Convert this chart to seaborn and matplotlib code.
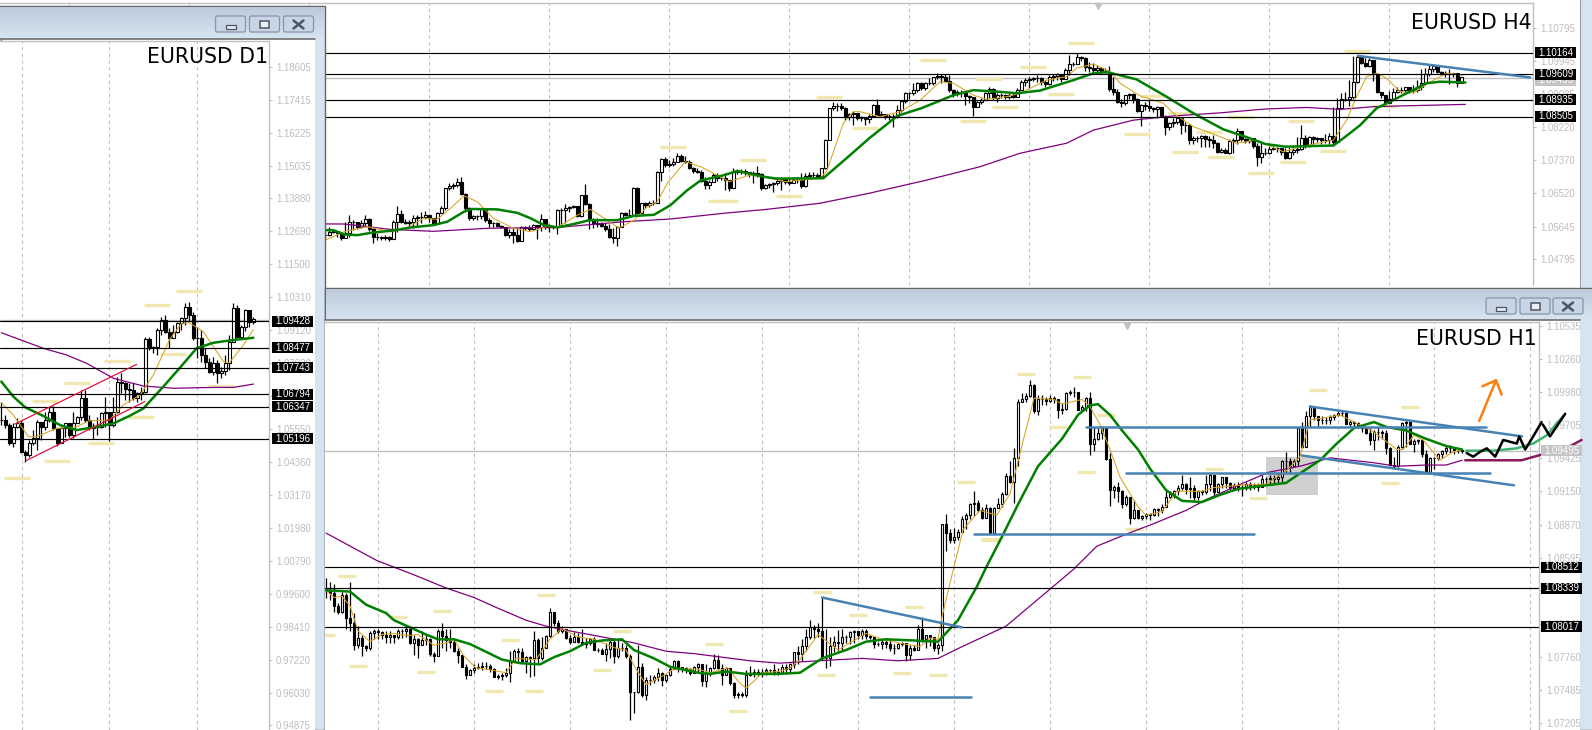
import numpy as np
import matplotlib
matplotlib.use("Agg")
import matplotlib.pyplot as plt
from matplotlib.patches import Rectangle, FancyBboxPatch
from matplotlib.colors import LinearSegmentedColormap
import seaborn as sns

# all prices are kept in pips above 1.0000, candles open at the previous close
d1_close = [586,568,502,562,574,472,460,502,520,580,562,586,617,556,502,556,574,532,574,596,665,586,556,562,562,611,617,568,617,725,719,697,695,665,683,689,877,845,851,911,947,905,881,905,935,953,993,965,881,881,821,797,761,791,755,764,791,869,989,887,923,983,941,949]
d1_high = [653,604,574,574,592,586,478,514,550,586,568,617,632,637,556,562,574,568,617,601,695,695,604,574,598,617,671,617,671,743,755,725,719,719,689,707,885,885,853,917,959,965,917,929,941,959,1010,1013,977,923,911,845,809,815,803,776,821,893,1007,1001,929,985,983,957]
d1_low = [568,556,496,490,556,466,436,454,496,478,514,550,580,550,493,502,526,526,520,574,586,580,550,517,532,556,562,512,560,611,683,659,653,659,653,659,683,839,827,821,893,899,845,881,899,911,929,941,875,809,797,773,755,749,719,737,749,767,875,881,885,909,923,933]
d1_green_bar = [0,3,6,10.5,14.7,18.8,23.8,28,32,35.5,40.5,44.7,48.8,53,58,63]
d1_green = [725,671,632,601,568,550,562,574,601,628,707,776,845,865,875,883]
d1_orange_bar = [0,3,6.8,8.8,13.8,18.8,22,27,30.5,34.7,38,42,45,47,50.5,53,55.5,57,60.5,63]
d1_orange = [649,604,526,526,556,562,584,586,641,677,749,875,935,937,905,851,797,793,857,913]
d1_purple_bar = [0,3.8,10.5,16.3,21.3,28,35.5,43,53,58,63]
d1_purple = [901,881,845,821,791,737,709,701,704,704,716]
d1_levels = [1.09428,1.08477,1.07743,1.06794,1.06347,1.05196]
d1_ticks = [1.18605,1.17415,1.16225,1.15035,1.13880,1.12690,1.11500,1.10310,1.09120,1.07930,1.06740,1.05550,1.04360,1.03170,1.01980,1.00790,0.99600,0.98410,0.97220,0.96030,0.94875]
d1_dash_bar = [47,39,29,19,11,43,55,35,25,14,4]
d1_dash = [1050,1000,798,719,654,823,708,596,502,437,376]
d1_red_bar = [[6.2,35.9],[3.4,33.8]]
d1_red = [[440,653],[572,787]]
d1_grid = [5.1,27,49]

h4_close = [542,551,554,547,534,547,577,577,562,574,583,557,536,538,534,538,533,577,597,577,574,577,586,588,590,594,586,573,600,612,664,670,672,681,649,612,586,592,592,609,581,573,573,566,562,542,551,542,528,562,560,557,568,562,583,564,564,562,607,607,612,616,618,592,646,623,581,573,571,566,557,538,534,562,600,594,594,664,600,625,620,626,625,707,739,724,727,733,748,736,733,716,710,707,684,672,681,698,690,
690,685,664,707,707,709,707,700,703,700,665,672,674,678,684,687,681,678,685,685,670,696,698,698,696,716,789,872,878,878,872,848,857,859,846,846,843,852,880,854,857,852,853,852,867,891,911,911,919,937,924,937,937,952,956,954,944,919,909,915,912,904,900,876,889,893,911,921,898,906,906,902,906,902,919,941,945,947,950,950,941,935,952,956,961,947,971,987,987,1004,1002,978,976,971,976,
967,967,921,915,889,886,906,909,895,866,880,878,872,869,874,852,824,834,837,846,828,828,789,794,794,800,791,789,782,759,763,756,788,789,814,791,788,794,774,746,755,755,765,768,768,759,742,759,763,765,794,776,796,791,794,789,789,800,785,872,895,895,902,941,1006,990,982,997,961,915,906,886,895,915,919,919,926,919,919,926,938,961,973,982,967,964,963,963,963,938,952,951]
h4_high = [560,562,557,554,551,577,594,581,577,581,594,586,560,547,540,542,540,581,618,607,583,581,594,594,603,606,597,586,603,618,664,677,677,690,692,652,616,594,594,612,612,586,577,577,568,562,557,560,560,566,566,568,571,568,597,583,571,566,609,612,623,618,620,612,646,675,625,586,586,577,573,571,560,566,603,603,609,666,668,626,629,632,634,710,742,744,737,742,755,753,748,737,718,716,711,694,685,703,703,
698,703,677,716,713,713,713,707,710,722,704,675,677,681,692,692,690,690,692,692,704,704,707,707,704,716,791,873,889,885,885,876,860,866,854,852,846,857,883,895,866,857,857,857,880,893,915,915,937,941,941,941,950,954,964,961,961,958,921,919,919,912,906,898,892,898,915,926,924,911,911,909,911,915,924,945,950,952,952,958,952,945,958,961,964,958,976,1010,993,1015,1008,1004,993,989,984,
980,976,982,952,921,895,906,912,911,898,883,889,895,876,878,876,854,837,846,848,846,837,831,800,800,802,802,800,802,785,768,768,791,794,820,814,794,796,794,781,781,768,774,774,770,765,768,770,772,798,828,802,800,800,796,794,805,808,876,898,912,915,945,1008,1010,999,1002,1002,963,926,911,900,918,924,926,928,924,924,932,945,973,976,984,980,971,970,970,973,964,954,954]
h4_low = [529,540,547,538,529,536,538,555,557,560,564,554,522,529,529,529,528,531,551,574,571,566,560,566,573,583,577,568,574,599,607,659,661,668,646,607,581,581,581,583,577,562,564,562,560,540,534,521,525,528,555,554,555,531,554,557,551,557,545,568,573,603,612,588,590,620,557,560,564,562,554,534,521,514,562,592,588,594,597,612,612,616,620,626,684,720,720,722,733,733,729,713,704,703,681,661,661,684,684,
685,659,657,668,701,701,698,694,678,692,659,661,664,655,672,659,675,672,681,678,664,666,690,692,692,694,713,789,867,866,867,841,841,828,841,840,828,834,848,852,848,843,841,822,846,863,886,895,906,915,919,919,932,932,947,937,941,915,900,904,900,880,885,852,876,883,895,898,893,889,898,895,895,898,900,919,930,924,944,941,932,928,932,944,945,941,947,958,982,990,996,970,967,964,963,
961,963,918,906,885,876,880,895,885,863,826,867,866,863,846,848,802,815,822,831,805,811,779,779,785,772,770,770,768,756,755,755,753,755,779,788,781,782,768,722,730,750,753,763,759,750,739,739,750,756,763,768,772,779,785,779,781,779,776,785,869,892,878,895,937,987,978,978,944,912,898,885,889,893,911,912,915,912,911,915,919,937,956,967,964,958,952,935,952,928,938,944]
h4_green_bar = [-81,2,4.7,8,12,17,21.3,27,30.5,34.7,36.7,43,48,51.3,54.7,58,63,66,73,77.2,82.2,86.3,90.5,93.8,99.7,103,109.5,112.8,124.5,130.3,136,143,149,154,157,162,168,173,178.7,187,192,195.3,197.8,202.8,210.3,217,224.5,230,235,240,252,254.5,258.7,262.8,266.2,270.3,275.3,278.7,285]
h4_green = [562,555,544,542,549,554,562,568,577,603,610,609,600,586,568,562,573,581,581,592,595,620,659,684,698,709,694,689,690,742,794,852,872,893,906,919,915,911,918,945,963,966,960,947,902,859,817,798,779,772,775,794,828,872,889,911,937,941,939]
h4_orange_bar = [0,4.7,10.5,16.3,20.5,24.7,28,31.3,34.7,38,42,47,51.3,56.3,58,63,66.3,70.5,73.4,77.2,80.5,83,85.5,90,93.8,97,101,106,109.5,115,123.7,125.3,129.5,132,133.7,138.7,143.7,148.7,153.7,157,162,165.3,170.3,173.7,180.3,185.3,187.8,192,196.2,198.7,203.7,209.5,212,217,222,227.8,232.8,239.5,243.7,252,255.3,257.8,260.3,262.8,265.3,268.7,272,277,280.3,284.5]
h4_orange = [529,551,564,551,562,586,583,612,644,629,586,560,551,568,562,594,609,581,560,581,616,629,677,733,720,703,681,698,694,681,690,707,833,863,863,850,863,893,941,937,906,895,902,911,945,954,976,987,967,937,904,885,859,824,805,781,789,759,772,789,841,902,954,963,950,915,912,945,963,958]
h4_purple_bar = [-81,4.7,16.3,27,41,58,74.7,86.3,99.7,110.3,123.7,136,150.3,163.7,173.7,185.3,192,202,212,223.7,235,245.3,253.7,262,268.7,285]
h4_purple = [574,571,557,552,560,562,577,584,599,609,625,651,685,720,755,781,815,841,852,860,870,874,869,876,878,882]
h4_levels = [1.10164,1.09609,1.08935,1.08505]
h4_ticks = [1.10795,1.09945,1.09085,1.08220,1.07370,1.06520,1.05645,1.04795]
h4_dash_bar = [87,99,107,100,116,126,135,152,162,166,170,177,184,189,207,203,214,221,215,229,224,244,234,242,252,258,265]
h4_dash = [770,630,737,630,644,900,820,997,840,947,874,978,908,1041,903,804,859,809,757,849,744,840,703,731,762,1020,879]
h4_blue_bar = [258.2,301.2]
h4_blue = [1008,952]

h1_close = [832,830,819,814,828,809,805,786,792,785,784,796,798,797,795,793,795,793,798,798,800,788,791,786,790,791,779,777,798,794,790,789,781,778,768,761,765,767,768,769,769,766,759,760,761,763,773,781,780,773,776,775,790,775,784,794,814,805,798,800,792,789,793,789,787,788,791,782,782,779,783,789,777,784,784,777,747,747,768,744,757,757,759,763,757,761,766,773,768,767,766,763,768,770,756,763,767,774,767,761,767,754,744,745,744,761,763,764,763,764,765,765,764,763,
768,766,770,780,779,785,793,801,800,798,775,775,785,789,788,793,793,797,798,795,798,794,793,787,787,789,787,784,784,787,788,778,784,782,800,791,795,793,784,786,
888,880,874,877,881,892,895,904,905,899,893,901,880,901,904,913,928,923,943,990,992,995,1004,982,992,992,991,993,992,983,984,997,998,998,983,986,993,955,959,964,968,942,916,919,915,904,910,893,899,893,894,896,895,900,899,902,910,913,915,918,921,917,918,910,915,914,921,929,914,921,927,922,918,920,919,918,921,920,920,919,925,925,926,925,927,940,940,936,940,968,
952,978,986,978,975,975,975,977,979,981,981,971,973,972,969,968,964,958,965,965,964,951,937,936,952,972,973,955,957,958,946,931,943,943,946,949,951,951,950,950,949]
h1_high = [842,839,837,821,831,830,839,813,802,795,786,798,800,800,798,798,798,795,800,800,803,802,795,792,798,795,792,780,800,805,800,800,791,784,778,770,766,770,771,772,772,770,767,762,763,767,781,783,784,784,777,777,798,792,793,795,817,814,807,802,796,795,797,796,800,792,792,793,784,784,788,791,792,791,788,786,779,747,786,771,759,761,761,767,764,761,768,774,774,768,768,767,769,771,770,770,768,779,778,770,768,764,755,747,747,765,769,766,766,766,767,766,770,767,
770,770,771,780,785,791,800,807,803,805,826,800,793,794,799,800,795,798,799,798,800,800,795,794,789,791,791,791,787,788,789,788,786,786,803,810,795,794,792,788,
888,896,883,884,883,894,897,905,915,908,902,904,902,902,909,914,930,940,951,992,997,997,1008,1005,996,996,994,996,995,992,989,998,1000,1002,997,987,994,998,969,968,970,969,947,920,923,916,912,909,908,899,895,897,897,901,901,904,915,915,916,920,929,922,927,920,916,916,929,930,929,922,927,927,923,922,923,921,923,923,922,922,929,927,929,929,930,941,948,943,942,969,
973,982,987,985,978,978,977,979,980,983,983,982,975,974,973,970,969,968,966,969,966,966,952,944,954,973,975,975,959,959,959,950,944,944,947,950,953,954,951,951,950]
h1_low = [826,824,814,812,813,800,798,782,784,777,781,782,791,791,791,788,788,788,791,792,793,787,778,775,786,786,777,772,777,784,781,784,780,771,768,758,761,763,766,765,766,764,759,758,757,759,755,772,772,771,763,759,760,771,774,784,793,802,796,796,791,787,789,788,786,784,786,782,780,779,773,775,771,775,781,775,723,729,746,743,740,753,754,756,752,755,760,766,764,764,763,761,763,764,752,751,760,766,766,753,761,753,742,742,743,743,760,759,760,759,761,762,761,761,
762,762,764,767,770,773,781,791,792,793,774,767,769,780,781,782,788,787,788,791,791,791,791,784,785,783,784,781,779,783,785,773,774,781,782,789,784,785,781,779,
781,865,872,872,874,882,883,892,894,898,892,894,879,879,901,902,912,922,905,936,990,990,994,981,979,987,987,990,989,976,980,983,996,994,983,982,982,945,949,958,959,941,903,909,906,901,903,888,892,892,891,892,891,894,894,897,902,909,909,912,916,913,909,908,908,912,913,915,912,915,918,918,915,916,915,911,916,916,917,915,920,920,921,921,922,923,930,930,935,936,
951,961,969,975,970,971,971,971,975,978,978,971,969,969,968,965,963,954,950,958,959,946,936,934,935,951,952,955,948,955,944,930,930,934,941,943,946,947,946,947,947]
h1_green_bar = [0,6,10,15,17,21,25,28,32,36,38.5,44,48.5,53.5,57,61,65,69,74,77,82,86,93,96,100,105,113,118.5,124,130,135,140,147,153,158,162.7,165,169,173,178,184,188,191,193,196,199,203,206,210,214,219,223.5,228,235,240,243.5,248.5,252.7,257,262,265,270,275,280,284]
h1_green = [832,831,820,813,807,801,795,791,791,787,783,774,771,770,776,781,788,790,791,782,775,768,763,762,764,762,762,763,775,782,789,791,790,789,807,835,851,877,904,936,959,979,987,988,979,966,950,934,916,907,906,912,917,920,922,930,941,955,968,973,969,966,959,953,950]
h1_orange_bar = [0,2,4,6,8,11,14,17,20,23,27,30,32,34.5,37.5,40,45,47.5,52.5,56,59,63,67,72,75,77.5,80,84,87,93,96,100.5,103,105,107,109,113,116,118.5,123,128,131,135,139,144.5,148.5,151,153,154,157,159.3,163.5,167.7,171,173.5,177,182,184,189,191,193.5,196,198.5,203,205,209,212.7,219,221.8,228,235,240,243.5,246,248.5,253.5,261.8,267.7,269.3,272,274.3,278.5,281.8,284]
h1_orange = [832,826,827,819,798,789,795,796,794,795,786,788,791,777,767,766,763,775,774,791,800,793,791,784,782,766,753,760,766,766,763,767,756,750,756,763,764,767,774,795,782,788,796,791,787,785,792,791,810,852,883,899,895,913,947,993,992,988,992,986,971,950,927,902,895,898,915,915,918,920,921,932,944,975,976,979,965,950,950,962,958,941,948,950]
h1_purple_bar = [0,12.7,22,30,37,43,50,55,61,69,77,85,92,99,106,113.5,123,134,143,153,158.5,170,181,187,192.7,200,207,215,220,228,235.7,243.5,251,261.8,267.7,275,280,284]
h1_purple = [880,857,845,834,826,817,807,802,798,793,788,781,779,776,773,771,773,775,773,775,784,802,833,850,869,879,888,899,908,920,931,936,943,939,936,937,937,941]
h1_levels = [1.08512,1.08339,1.08017]
h1_ticks = [1.10535,1.10260,1.09980,1.09705,1.09425,1.09150,1.08870,1.08595,1.08320,1.08040,1.07760,1.07485,1.07205]
h1_dash_bar = [5.2,0,18,8,29,25,55,46,42,52,74,69,97,103,124,125,133,144,147,153,166,175,189,160,166,183,190,195,202,222,233,248,271,266]
h1_dash = [844,795,810,769,815,764,828,790,748,748,798,765,787,731,831,761,811,763,818,761,874,1013,1011,923,875,969,931,979,883,934,909,1000,986,922]
h1_blue_bar = [[190,290],[200,291],[162,232],[136,161.2],[124,159],[246,299],[244,297]]
h1_blue = [[969,969],[930,930],[879,879],[743,743],[826,801],[986,961],[945,920]]
sketch_teal_bar = [285,291.8,297.7,301.8,305.2,309.3]
sketch_teal = [949,949,951,955,962,978]
sketch_maroon_bar = [284.8,298.9,305.2,310.6,313.9]
sketch_maroon = [941,941,947,952,958]
sketch_black_bar = [285.2,286.8,288.5,290.2,292.3,294.3,297.7,298.3,299.8,301.8,303.9]
sketch_black = [947,944,948,951,944,958,955,961,950,961,973]
sketch_black2_bar = [304.2,306,309.8]
sketch_black2 = [971,961,980]
arrow_bar = [288.3,292.5]
arrow = [974,1008]
arrow_head_bar = [289.1,292.5,293.9]
arrow_head = [1003,1008,996]

W, H = 1592, 730
BLUE = "#4682b4"
GRID = "#c0c0c0"
YELLOW = "#f0e8b0"

sns.set_style("white")
plt.rcParams["font.family"] = ["DejaVu Sans"]

fig = plt.figure(figsize=(W / 100, H / 100), dpi=100, facecolor="white")


def px_axes(left, top, right, bottom, z):
    ax = fig.add_axes([left / W, 1 - bottom / H, (right - left) / W, (bottom - top) / H], zorder=z)
    return ax


def price(p):
    return 1 + np.asarray(p, dtype=float) / 10000


def candles(ax, close, high, low):
    close = price(close)
    n = min(len(close), len(high), len(low))
    close = close[:n]
    high = price(high)[:n]
    low = price(low)[:n]
    opens = np.r_[close[0], close[:-1]]
    x = np.arange(n)
    ax.vlines(x, low, high, color="black", lw=0.9, zorder=3)
    colors = ["white" if c >= o else "black" for o, c in zip(opens, close)]
    ax.bar(x, np.abs(close - opens), bottom=np.minimum(opens, close), width=0.72,
           color=colors, edgecolor="black", lw=0.8, zorder=3)


def ma(ax, bars, values, color, lw, z=4, clip=True):
    sns.lineplot(x=bars, y=price(values), ax=ax, color=color, lw=lw, estimator=None, sort=False,
                 legend=False, zorder=z, clip_on=clip, solid_joinstyle="round")


def dashes(ax, bars, values, width):
    bars = np.asarray(bars, dtype=float)
    ax.hlines(price(values), bars - width / 2, bars + width / 2, color=YELLOW, lw=2.4, zorder=2)


def tag(ax, value, label, px_w, px_h, offset, box_w=41, color="black", z=9):
    y0, y1 = ax.get_ylim()
    f = (value - y0) / (y1 - y0)
    ax.add_patch(Rectangle((1 + offset / px_w, f - 5.5 / px_h), box_w / px_w, 11 / px_h, transform=ax.transAxes,
                           facecolor=color, edgecolor="none", clip_on=False, zorder=z))
    ax.text(1 + (offset + box_w / 2) / px_w, f, label, transform=ax.transAxes, ha="center", va="center",
            color="white", fontsize=7, clip_on=False, zorder=z + 0.1, fontfamily="Liberation Sans")


def style(ax, xlim, ylim, grid_bars, ticks):
    ax.set_xlim(*xlim)
    ax.set_ylim(price(ylim[1]), price(ylim[0]))
    ax.set_xticks(grid_bars)
    ax.set_xticklabels([])
    ax.set_yticks(ticks)
    ax.set_yticklabels(["%.5f" % t for t in ticks])
    ax.yaxis.tick_right()
    ax.tick_params(axis="y", length=2, width=0.8, color=GRID, labelcolor="#bdbdbd", labelsize=6.9, pad=3)
    ax.tick_params(axis="x", length=0)
    for t in ax.get_yticklabels():
        t.set_fontfamily("Liberation Sans")
    ax.grid(axis="x", color=GRID, ls=(0, (3, 3)), lw=0.8, zorder=0)
    ax.grid(axis="y", visible=False)
    ax.set_axisbelow(True)
    for side in ["left", "bottom"]:
        ax.spines[side].set_visible(False)
    for side in ["top", "right"]:
        ax.spines[side].set_color(GRID)
        ax.spines[side].set_linewidth(1)
    ax.set_facecolor("white")


def levels(ax, values, px_w, px_h, offset):
    for v in values:
        ax.axhline(v, color="black", lw=0.85, zorder=5)
        tag(ax, v, "%.5f" % v, px_w, px_h, offset)


# h4 window sits at the back
back = fig.add_axes([0, 0, 1, 1], zorder=0)
back.set_xlim(0, W)
back.set_ylim(H, 0)
back.axis("off")
back.add_patch(Rectangle((1580, 0), 12, 288, facecolor="#d6e3f0", edgecolor="none"))
back.plot([1579.5, 1579.5], [0, 288], color="#a0a0a0", lw=0.8)

h4 = px_axes(0, 3, 1533, 285, 1)
style(h4, (-81.3, 301.9), (1145.6, 412.4), np.arange(-64, 270, 30), h4_ticks)
h4.axhline(price(950), color=GRID, lw=1, zorder=1)
tag(h4, price(945), "1.09495", 1533, 282, 2, color="#c4c4c4", z=8)
dashes(h4, h4_dash_bar, h4_dash, 6.5)
candles(h4, h4_close, h4_high, h4_low)
ma(h4, h4_purple_bar, h4_purple, "#800080", 0.9)
ma(h4, h4_orange_bar, h4_orange, "#daa520", 0.75)
ma(h4, h4_green_bar, h4_green, "#008000", 1.8)
levels(h4, h4_levels, 1533, 282, 2)
ma(h4, h4_blue_bar, h4_blue, BLUE, 1.8, z=6, clip=False)
h4.plot([0.716], [0.989], transform=h4.transAxes, marker="v", ms=5, color=GRID, clip_on=False)
h4.text(0.9993, 0.908, "EURUSD H4", transform=h4.transAxes, ha="right", va="baseline", fontsize=14.8, color="black", zorder=10)

# window frames of d1 and h1
chrome = fig.add_axes([0, 0, 1, 1], zorder=2)
chrome.patch.set_alpha(0)
chrome.axis("off")
bar_cmap = LinearSegmentedColormap.from_list("bar", ["#bccadb", "#d6e3f0"])
gradient = np.linspace(0, 1, 32).reshape(-1, 1)


def window(left, top, right, bar_bottom, client_left, client_right, btn_x):
    chrome.add_patch(Rectangle((left, top), right - left, H - top, facecolor="#d6e3f0", edgecolor="#646464", lw=1))
    chrome.imshow(gradient, extent=(left + 1, right - 1, bar_bottom, top + 1), cmap=bar_cmap, aspect="auto", zorder=2)
    chrome.add_patch(Rectangle((client_left, bar_bottom + 1), client_right - client_left, H - bar_bottom,
                               facecolor="white", edgecolor="none", zorder=3))
    chrome.plot([client_left, client_right], [bar_bottom + 0.5] * 2, color="#6e6e6e", lw=1.2, zorder=4)
    by = top + 10
    for i, x in enumerate(btn_x):
        chrome.add_patch(FancyBboxPatch((x, by), 30, 16, boxstyle="round,pad=0,rounding_size=2", facecolor="#c8d5e4",
                                        edgecolor="#8494ab", lw=0.9, zorder=5))
        cx, cy = x + 15, by + 8.5
        if i == 0:
            chrome.add_patch(Rectangle((cx - 5, cy, ), 10, 4, facecolor="#e8eef5", edgecolor="#4a5565", lw=0.9, zorder=6))
        elif i == 1:
            chrome.add_patch(Rectangle((cx - 4.5, cy - 3.5), 9, 7, facecolor="#e8eef5", edgecolor="#4a5565", lw=1.1, zorder=6))
        else:
            chrome.plot([cx - 5, cx + 5], [cy - 4, cy + 4], color="#4a5565", lw=1.8, zorder=6)
            chrome.plot([cx - 5, cx + 5], [cy + 4, cy - 4], color="#4a5565", lw=1.8, zorder=6)


window(-3, 6, 324.5, 38, 0, 315, [215.5, 249.5, 283.5])
window(324.5, 288, 1597, 319, 325, 1580, [1486, 1520, 1553])
chrome.plot([0.5, 0.5], [38, 730], color="#7a7a7a", lw=1, zorder=4)
chrome.set_xlim(0, W)
chrome.set_ylim(H, 0)

# d1
d1 = px_axes(0, 41, 269, 730, 3)
style(d1, (-0.33, 66.9), (1953.2, -531.4), d1_grid, d1_ticks)
d1.axhline(price(948), color=GRID, lw=1, zorder=1)
dashes(d1, d1_dash_bar, d1_dash, 6.5)
candles(d1, d1_close, d1_high, d1_low)
ma(d1, d1_purple_bar, d1_purple, "#800080", 0.9)
ma(d1, d1_orange_bar, d1_orange, "#daa520", 0.75)
ma(d1, d1_green_bar, d1_green, "#008000", 1.8)
levels(d1, d1_levels, 269, 689, 3)
for bars, vals in zip(d1_red_bar, d1_red):
    ma(d1, bars, vals, "#dc143c", 0.9, z=6)
d1.text(0.995, 0.9675, "EURUSD D1", transform=d1.transAxes, ha="right", va="baseline", fontsize=14.8, color="black", zorder=10)

# h1
h1 = px_axes(325, 322, 1539, 730, 3)
style(h1, (-0.25, 303.25), (1056.85, 715.0), np.arange(13, 302, 24), h1_ticks)
h1.add_patch(Rectangle((235, price(912)), 13, price(944) - price(912), facecolor="#d0d0d0", edgecolor="none", zorder=1))
h1.axhline(price(949), color=GRID, lw=1, zorder=1)
tag(h1, price(949), "1.09495", 1214, 408, 2, color="#c4c4c4", z=8)
dashes(h1, h1_dash_bar, h1_dash, 4.5)
candles(h1, h1_close, h1_high, h1_low)
ma(h1, h1_purple_bar, h1_purple, "#800080", 0.9)
ma(h1, h1_orange_bar, h1_orange, "#daa520", 0.75)
ma(h1, h1_green_bar, h1_green, "#008000", 1.8)
levels(h1, h1_levels, 1214, 408, 2)
for bars, vals in zip(h1_blue_bar, h1_blue):
    ma(h1, bars, vals, BLUE, 1.8, z=6)
ma(h1, sketch_teal_bar, sketch_teal, "#3cb371", 1.8, z=7, clip=False)
ma(h1, sketch_maroon_bar, sketch_maroon, "#8b1a5a", 1.8, z=7, clip=False)
ma(h1, sketch_black_bar, sketch_black, "black", 1.8, z=10, clip=False)
ma(h1, sketch_black2_bar, sketch_black2, "black", 1.8, z=10, clip=False)
ma(h1, arrow_bar, arrow, "#ff7f0e", 1.8, z=7)
ma(h1, arrow_head_bar, arrow_head, "#ff7f0e", 1.8, z=7)
h1.plot([0.6606], [0.99], transform=h1.transAxes, marker="v", ms=5, color=GRID, clip_on=False)
h1.text(0.9984, 0.9436, "EURUSD H1", transform=h1.transAxes, ha="right", va="baseline", fontsize=14.8, color="black", zorder=10)

fig.savefig("out.png", dpi=100)
